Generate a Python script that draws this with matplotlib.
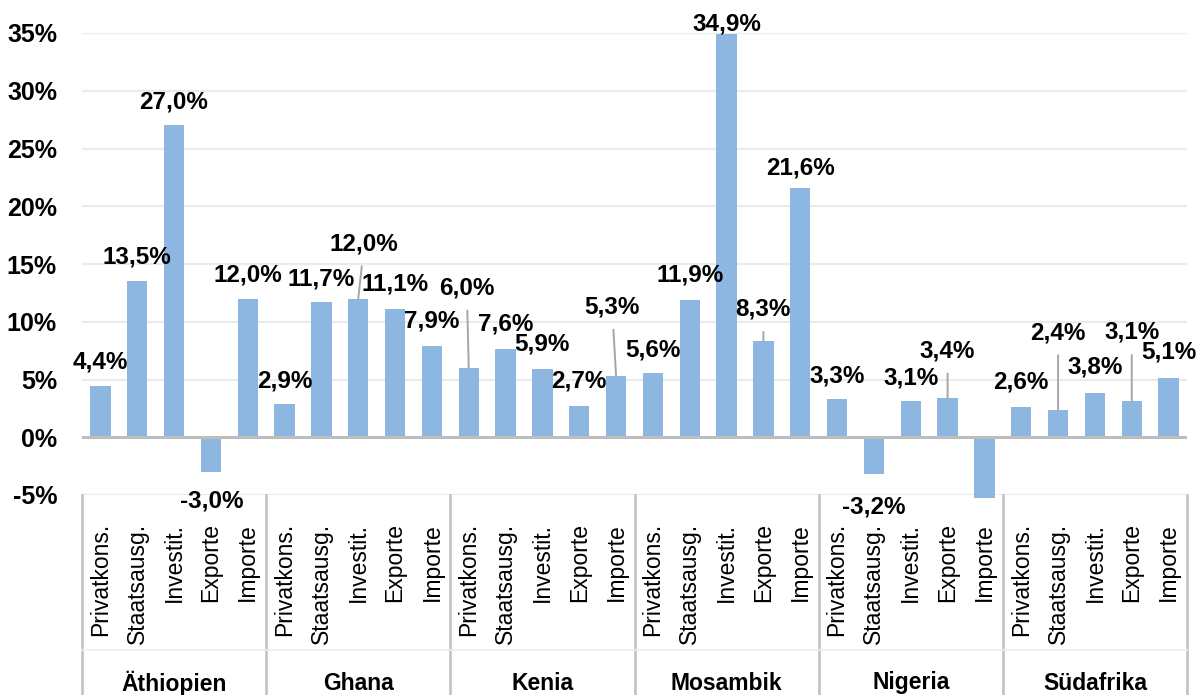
import matplotlib
matplotlib.use("Agg")
import matplotlib.pyplot as plt

plt.rcParams['font.family'] = ['Liberation Sans', 'DejaVu Sans']

countries = ["Äthiopien", "Ghana", "Kenia", "Mosambik", "Nigeria", "Südafrika"]
components = ["Privatkons.", "Staatsausg.", "Investit.", "Exporte", "Importe"]

# growth per country: Privatkons., Staatsausg., Investit., Exporte, Importe (%)
aethiopien = [4.4, 13.5, 27.0, -3.0, 12.0]
ghana = [2.9, 11.7, 12.0, 11.1, 7.9]
kenia = [6.0, 7.6, 5.9, 2.7, 5.3]
mosambik = [5.6, 11.9, 34.9, 8.3, 21.6]
nigeria = [3.3, -3.2, 3.1, 3.4, -5.3]
suedafrika = [2.6, 2.4, 3.8, 3.1, 5.1]

ytick_vals = [-5, 0, 5, 10, 15, 20, 25, 30, 35]
ytick_labels = ["-5%", "0%", "5%", "10%", "15%", "20%", "25%", "30%", "35%"]

values = aethiopien + ghana + kenia + mosambik + nigeria + suedafrika
show_label = [True] * 24 + [False] + [True] * 5

# label placement (pixel offsets from bar end), like the moved Excel labels
label_dx = [0, 0, -1, 1, 0,
            0, 0, 6, 0, 0,
            -2, 0, 0, 0, -4,
            0, 0, 0, 0, 0,
            0, 0, 0, 0, 0,
            0, 0, 0, 0, 0]
label_dy = [24, 24, 23, -29, 24,
            23, 23, 55, 25, 25,
            80, 25, 25, 25, 69,
            23, 25, 10, 32, 20,
            23, -33, 23, 47, 0,
            25, 77, 26, 69, 26]

bar_color = "#8DB7E1"
grid_color = "#EBEBEB"
sep_color = "#C0C0C0"

fig = plt.figure(figsize=(12.04, 6.95), dpi=100)
ax = fig.add_axes([82 / 1204, 1 - 495 / 695, 1105 / 1204, 462 / 695])

n = len(values)
xs = list(range(n))
ax.bar(xs, values, width=0.55, color=bar_color, zorder=3, clip_on=False)

ax.set_xlim(-0.5, n - 0.5)
ax.set_ylim(-5, 35)

for y in ytick_vals:
    if y == 0:
        continue
    ax.axhline(y, color=grid_color, lw=1.6, zorder=1)
ax.axhline(0, color="#BDBDBD", lw=2.2, zorder=4)

for s in ax.spines.values():
    s.set_visible(False)

ax.set_yticks(ytick_vals)
ax.set_yticklabels(ytick_labels, fontsize=18, fontweight='bold')
ax.tick_params(axis='y', length=0, pad=18)

ax.set_xticks(xs)
ax.set_xticklabels(components * len(countries), rotation=90, fontsize=16.5)
ax.tick_params(axis='x', length=0, pad=20)

for i, v in enumerate(values):
    if not show_label[i]:
        continue
    txt = f"{v:.1f}".replace('.', ',') + '%'
    dy = label_dy[i]
    if dy > 30:
        ax.annotate(txt, xy=(i, v), xytext=(label_dx[i], dy),
                    textcoords='offset pixels', ha='center', va='center',
                    fontsize=17.5, fontweight='bold', zorder=5,
                    arrowprops=dict(arrowstyle='-', color='#A6A6A6', lw=1.4,
                                    shrinkA=6, shrinkB=0))
    else:
        ax.annotate(txt, xy=(i, v), xytext=(label_dx[i], dy),
                    textcoords='offset pixels', ha='center', va='center',
                    fontsize=17.5, fontweight='bold', zorder=5,
                    annotation_clip=False)

# multi-level category axis: separators, thin line, country names
trans = ax.get_xaxis_transform()
bottom = -200 / 462
for k in range(len(countries) + 1):
    xk = k * len(components) - 0.5
    ax.plot([xk, xk], [0, bottom], color=sep_color, lw=1.8,
            transform=trans, clip_on=False)
ax.plot([-0.5, n - 0.5], [-155 / 462, -155 / 462], color="#EFEFEF", lw=1.2,
        transform=trans, clip_on=False)
for k, c in enumerate(countries):
    xc = k * len(components) + (len(components) - 1) / 2
    ax.text(xc, -188 / 462, c, transform=trans, ha='center', va='center',
            fontsize=16.5, fontweight='bold')

fig.savefig("out.png", dpi=100)
